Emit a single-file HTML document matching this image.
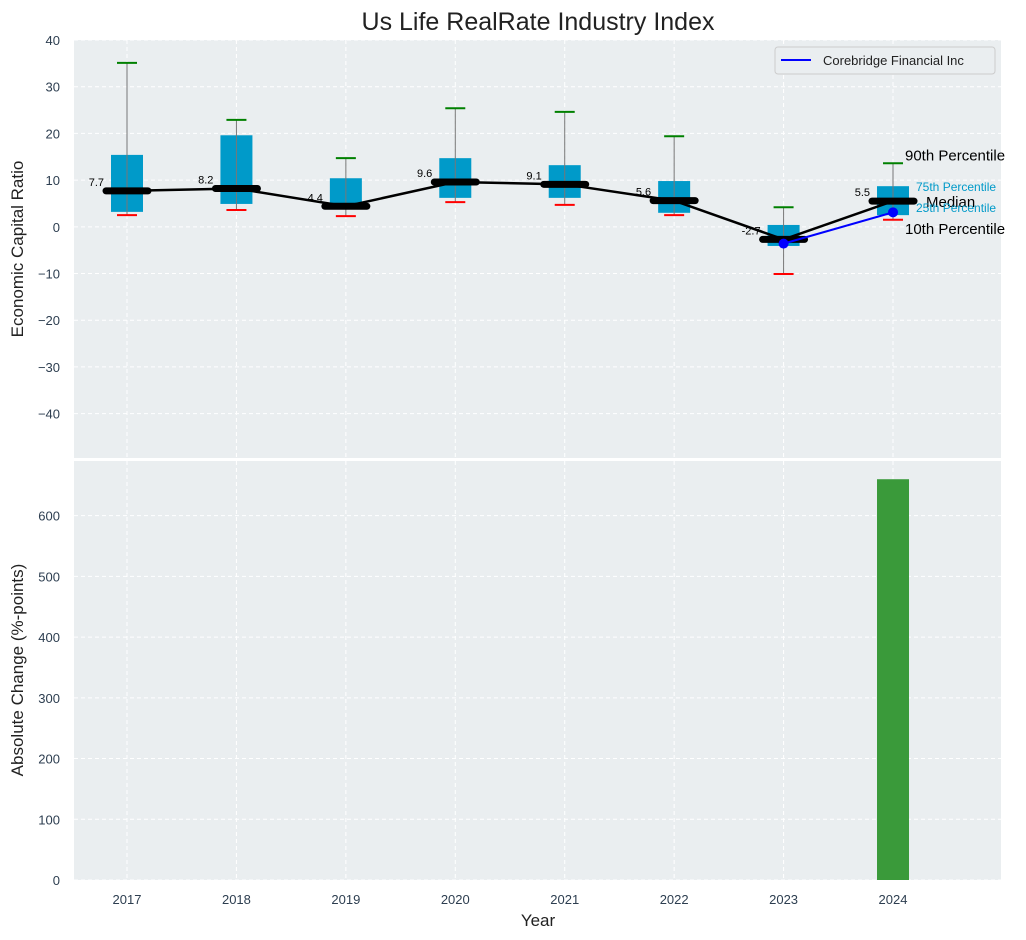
<!DOCTYPE html>
<html><head><meta charset="utf-8"><style>body{margin:0;background:#fff}svg{display:block;font-family:"Liberation Sans",sans-serif}</style></head>
<body>
<svg id="c" width="1026" height="940"></svg>
<script>
const years=[2017,2018,2019,2020,2021,2022,2023,2024];
const p90=[35.1,22.9,14.7,25.4,24.6,19.4,4.2,13.6];
const q75=[15.4,19.6,10.4,14.7,13.2,9.8,0.4,8.7];
const medians=[7.7,8.2,4.4,9.6,9.1,5.6,-2.7,5.5];
const q25=[3.2,4.9,3.8,6.2,6.2,3.0,-4.1,2.5];
const p10=[2.5,3.6,2.3,5.3,4.7,2.5,-10.1,1.5];
const companyYears=[2023,2024];
const companyVals=[-3.6,3.1];
const changeVals=[0,0,0,0,0,0,0,660];
const topTicks=[-40,-30,-20,-10,0,10,20,30,40];
const botTicks=[0,100,200,300,400,500,600];

const NS="http://www.w3.org/2000/svg";
const svg=document.getElementById('c');
function el(t,a,p){const e=document.createElementNS(NS,t);for(const k in a)e.setAttribute(k,a[k]);(p||svg).appendChild(e);return e;}
const L=74,R=1001,T1=40,B1=458,T2=461,B2=880;
const xs=i=>127+i*109.43;
const yTop=v=>T1+(40-v)*(B1-T1)/89.5;
const yBot=v=>B2-v*(B2-T2)/690;
const TC='#2d3e50';

el('rect',{x:L,y:T1,width:R-L,height:B1-T1,fill:'#eaeef0',});
el('rect',{x:L,y:T2,width:R-L,height:B2-T2,fill:'#eaeef0',});
function txt(s,a,name){const t=el('text',a);t.textContent=s;return t;}
years.forEach((y,i)=>{
 const x=xs(i);
 const g1=el('line',{x1:x,x2:x,y1:T1,y2:B1,stroke:'#fff','stroke-dasharray':'4,3','stroke-width':1});
 
 const g2=el('line',{x1:x,x2:x,y1:T2,y2:B2,stroke:'#fff','stroke-dasharray':'4,3','stroke-width':1});
 
 txt(String(y),{x:x,y:904,'font-size':13,fill:TC,'text-anchor':'middle'},'x-tick-label');
});
topTicks.forEach(v=>{const y=yTop(v);
 const g=el('line',{x1:L,x2:R,y1:y,y2:y,stroke:'#fff','stroke-dasharray':'4,3'});
 
 txt(v<0?'\u2212'+(-v):String(v),{x:L-14,y:y+5,'font-size':13,fill:TC,'text-anchor':'end'},'top-y-tick-label');});
botTicks.forEach(v=>{const y=yBot(v);
 const g=el('line',{x1:L,x2:R,y1:y,y2:y,stroke:'#fff','stroke-dasharray':'4,3'});
 
 txt(String(v),{x:L-14,y:y+5,'font-size':13,fill:TC,'text-anchor':'end'},'bottom-y-tick-label');});
const bw=32;
years.forEach((y,i)=>{
 const x=xs(i);
 const b=el('rect',{x:x-bw/2,y:yTop(q75[i]),width:bw,height:yTop(q25[i])-yTop(q75[i]),fill:'#009ac9'});
 
 const w=el('line',{x1:x,x2:x,y1:yTop(p90[i]),y2:yTop(p10[i]),stroke:'#777','stroke-width':1});
 
 const a=el('line',{x1:x-10,x2:x+10,y1:yTop(p90[i]),y2:yTop(p90[i]),stroke:'green','stroke-width':2});
 
 const c=el('line',{x1:x-10,x2:x+10,y1:yTop(p10[i]),y2:yTop(p10[i]),stroke:'red','stroke-width':2});
 
});
const ml=el('polyline',{points:medians.map((m,i)=>xs(i)+','+yTop(m)).join(' '),fill:'none',stroke:'#000','stroke-width':2.5});

years.forEach((y,i)=>{
 const x=xs(i),yy=yTop(medians[i]);
 const m=el('line',{x1:x-21,x2:x+21,y1:yy,y2:yy,stroke:'#000','stroke-width':7,'stroke-linecap':'round'});
 
 txt(medians[i].toFixed(1),{x:x-23,y:yy-5,'font-size':11,fill:'#000','text-anchor':'end'},'median-value-label');
});
const cp=companyYears.map((y,k)=>xs(years.indexOf(y))+','+yTop(companyVals[k])).join(' ');
const cl=el('polyline',{points:cp,fill:'none',stroke:'blue','stroke-width':2});

companyYears.forEach((y,k)=>{const d=el('circle',{cx:xs(years.indexOf(y)),cy:yTop(companyVals[k]),r:5,fill:'blue'});
 });
const li=years.length-1,ax=xs(li);
txt('90th Percentile',{x:ax+12,y:yTop(p90[li])-3,'font-size':15,fill:'#000'},'p90-annotation');
txt('75th Percentile',{x:ax+23,y:yTop(q75[li])+5,'font-size':12,fill:'#009ac9'},'q75-annotation');
txt('Median',{x:ax+33,y:yTop(medians[li])+6,'font-size':15,fill:'#000'},'median-annotation');
txt('25th Percentile',{x:ax+23,y:yTop(q25[li])-3,'font-size':12,fill:'#009ac9'},'q25-annotation');
txt('10th Percentile',{x:ax+12,y:yTop(p10[li])+14,'font-size':15,fill:'#000'},'p10-annotation');
changeVals.forEach((v,i)=>{const x=xs(i);
 const r=el('rect',{x:x-16,y:yBot(v),width:32,height:B2-yBot(v),fill:'#3a9a3a'});
 });
const lg=el('g',{});
el('rect',{x:775,y:47,width:220,height:27,rx:3,fill:'#eaeef0',stroke:'#ccc'},lg);
el('line',{x1:781,x2:811,y1:60,y2:60,stroke:'blue','stroke-width':2},lg);
const lt=el('text',{x:823,y:65,'font-size':13,fill:'#222'},lg);lt.textContent='Corebridge Financial Inc';
txt('Us Life RealRate Industry Index',{x:538,y:30,'font-size':25,fill:'#222','text-anchor':'middle'},'chart-title');
txt('Year',{x:538,y:926,'font-size':17,fill:'#222','text-anchor':'middle'},'x-axis-title');
txt('Economic Capital Ratio',{x:0,y:0,'font-size':17,fill:'#222','text-anchor':'middle',transform:'translate(23,249) rotate(-90)'},'top-y-axis-title');
txt('Absolute Change (%-points)',{x:0,y:0,'font-size':17,fill:'#222','text-anchor':'middle',transform:'translate(23,670) rotate(-90)'},'bottom-y-axis-title');
</script>
</body></html>
